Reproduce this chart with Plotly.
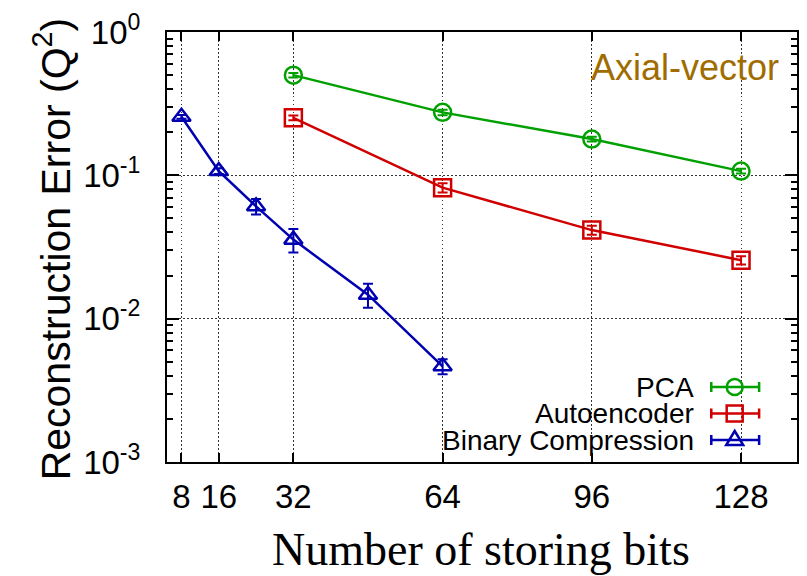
import plotly.graph_objects as go

# Reconstruction error versus number of storing bits (axial-vector case)
bits_pca = [32, 64, 96, 128]
err_pca = [0.50, 0.275, 0.179, 0.107]
sd_pca = [0.018, 0.012, 0.007, 0.004]

bits_ae = [32, 64, 96, 128]
err_ae = [0.252, 0.082, 0.0415, 0.0256]
sd_ae = [0.010, 0.006, 0.003, 0.0017]

bits_bin = [8, 16, 24, 32, 48, 64]
err_bin = [0.256, 0.107, 0.0608, 0.0356, 0.0147, 0.00465]
sd_bin = [0.008, 0.005, 0.0075, 0.0066, 0.0028, 0.00055]

series_names = ["PCA", "Autoencoder", "Binary Compression"]
series_colors = ["#00a000", "#d00000", "#0000b0"]

x_ticks = [8, 16, 32, 64, 96, 128]
y_ticks = [1e-3, 1e-2, 1e-1, 1.0]
y_ticklabels = ["10<sup>-3</sup>", "10<sup>-2</sup>", "10<sup>-1</sup>", "10<sup>0</sup>"]

W, H = 807, 576
L, R, T, B = 167, 8, 32, 114
PW, PH = W - L - R, H - T - B

SANS = "Liberation Sans, Arial, Helvetica, sans-serif"
SERIF = "Liberation Serif, Times New Roman, serif"


def px_x(p):
    return (p - L) / PW


def px_y(p):
    return (H - B - p) / PH


fig = go.Figure()

markers = ["circle-open", "square-open", "triangle-up-open"]
sizes = [17, 17, 16]
for name, xs, ys, es, col, sym, sz in zip(
    series_names,
    [bits_pca, bits_ae, bits_bin],
    [err_pca, err_ae, err_bin],
    [sd_pca, sd_ae, sd_bin],
    series_colors,
    markers,
    sizes,
):
    fig.add_trace(
        go.Scatter(
            x=xs,
            y=ys,
            name=name,
            mode="lines+markers",
            line=dict(color=col, width=2.5),
            marker=dict(symbol=sym, size=sz, color=col, line=dict(color=col, width=2.5)),
            error_y=dict(type="data", array=es, visible=True, color=col, thickness=2, width=5),
            showlegend=False,
        )
    )

# minor ticks for the log axis: 2..9 within each decade
minor_vals = [m * 10.0 ** d for d in range(-3, 0) for m in range(2, 10)]

grid_dash = "1.5px,2.5px"

fig.update_xaxes(
    range=[4.9, 140],
    tickvals=x_ticks,
    ticktext=[str(v) for v in x_ticks],
    ticks="inside",
    ticklen=9,
    tickwidth=1.5,
    tickcolor="black",
    showline=True,
    linewidth=2,
    linecolor="black",
    mirror="ticks",
    showgrid=True,
    gridcolor="#333333",
    gridwidth=1,
    griddash=grid_dash,
    zeroline=False,
    tickfont=dict(family=SANS, size=33, color="black"),
    ticklabelstandoff=4,
)

fig.update_yaxes(
    type="log",
    range=[-3, 0],
    tickvals=y_ticks,
    ticktext=y_ticklabels,
    ticks="inside",
    ticklen=12,
    tickwidth=1.5,
    tickcolor="black",
    showline=True,
    linewidth=2,
    linecolor="black",
    mirror="allticks",
    showgrid=True,
    gridcolor="#333333",
    gridwidth=1,
    griddash=grid_dash,
    zeroline=False,
    tickfont=dict(family=SANS, size=33, color="black"),
    ticklabelstandoff=18,
    minor=dict(tickvals=minor_vals, ticks="inside", ticklen=6, tickwidth=1.5, tickcolor="black", showgrid=False),
)

shapes = []
annotations = []

# opaque key box
shapes.append(
    dict(
        type="rect", xref="paper", yref="paper",
        x0=px_x(425), x1=px_x(770), y0=px_y(455), y1=px_y(372),
        fillcolor="white", line=dict(width=0), layer="between",
    )
)

# key: right-aligned labels with line + error-bar samples on the right
key_rows = [387, 413.5, 440]
sx0, sx1, sxm = 713, 761, 736.5
for name, col, row, kind in zip(series_names, series_colors, key_rows, ["circle", "square", "triangle"]):
    yy = px_y(row)
    annotations.append(
        dict(
            text=name, xref="paper", yref="paper", x=px_x(698), y=yy,
            xanchor="right", yanchor="middle", showarrow=False,
            font=dict(family=SANS, size=28, color="black"),
        )
    )
    shapes.append(dict(type="line", xref="paper", yref="paper", x0=px_x(sx0), x1=px_x(sx1), y0=yy, y1=yy,
                       line=dict(color=col, width=2.5)))
    for cx in (sx0, sx1):
        shapes.append(dict(type="line", xref="paper", yref="paper", x0=px_x(cx), x1=px_x(cx),
                           y0=px_y(row - 5), y1=px_y(row + 5), line=dict(color=col, width=2.5)))
    if kind == "circle":
        shapes.append(dict(type="circle", xref="paper", yref="paper", xsizemode="pixel", ysizemode="pixel",
                           xanchor=px_x(sxm), yanchor=yy, x0=-8, x1=8, y0=-8, y1=8,
                           line=dict(color=col, width=2.5), fillcolor="rgba(0,0,0,0)"))
    elif kind == "square":
        shapes.append(dict(type="rect", xref="paper", yref="paper", xsizemode="pixel", ysizemode="pixel",
                           xanchor=px_x(sxm), yanchor=yy, x0=-8, x1=8, y0=-8, y1=8,
                           line=dict(color=col, width=2.5), fillcolor="rgba(0,0,0,0)"))
    else:
        shapes.append(dict(type="path", xref="paper", yref="paper", xsizemode="pixel", ysizemode="pixel",
                           xanchor=px_x(sxm), yanchor=yy, path="M -8.5 -5 L 8.5 -5 L 0 9 Z",
                           line=dict(color=col, width=2.5), fillcolor="rgba(0,0,0,0)"))

# panel label
annotations.append(
    dict(
        text="Axial-vector", xref="paper", yref="paper", x=px_x(783), y=px_y(68),
        xanchor="right", yanchor="middle", showarrow=False,
        font=dict(family=SANS, size=36, color="#a06c00"),
    )
)

# axis titles
annotations.append(
    dict(
        text="Reconstruction Error (Q<sup>2</sup>)", xref="paper", yref="paper",
        x=px_x(52), y=px_y(249), xanchor="center", yanchor="middle", textangle=-90,
        showarrow=False, font=dict(family=SANS, size=41, color="black"),
    )
)
annotations.append(
    dict(
        text="Number of storing bits", xref="paper", yref="paper",
        x=px_x(482), y=px_y(549), xanchor="center", yanchor="middle",
        showarrow=False, font=dict(family=SERIF, size=46, color="black"),
    )
)

fig.update_layout(
    width=W,
    height=H,
    margin=dict(l=L, r=R, t=T, b=B, pad=0),
    paper_bgcolor="white",
    plot_bgcolor="white",
    shapes=shapes,
    annotations=annotations,
    showlegend=False,
)

fig.write_html("out.html")
